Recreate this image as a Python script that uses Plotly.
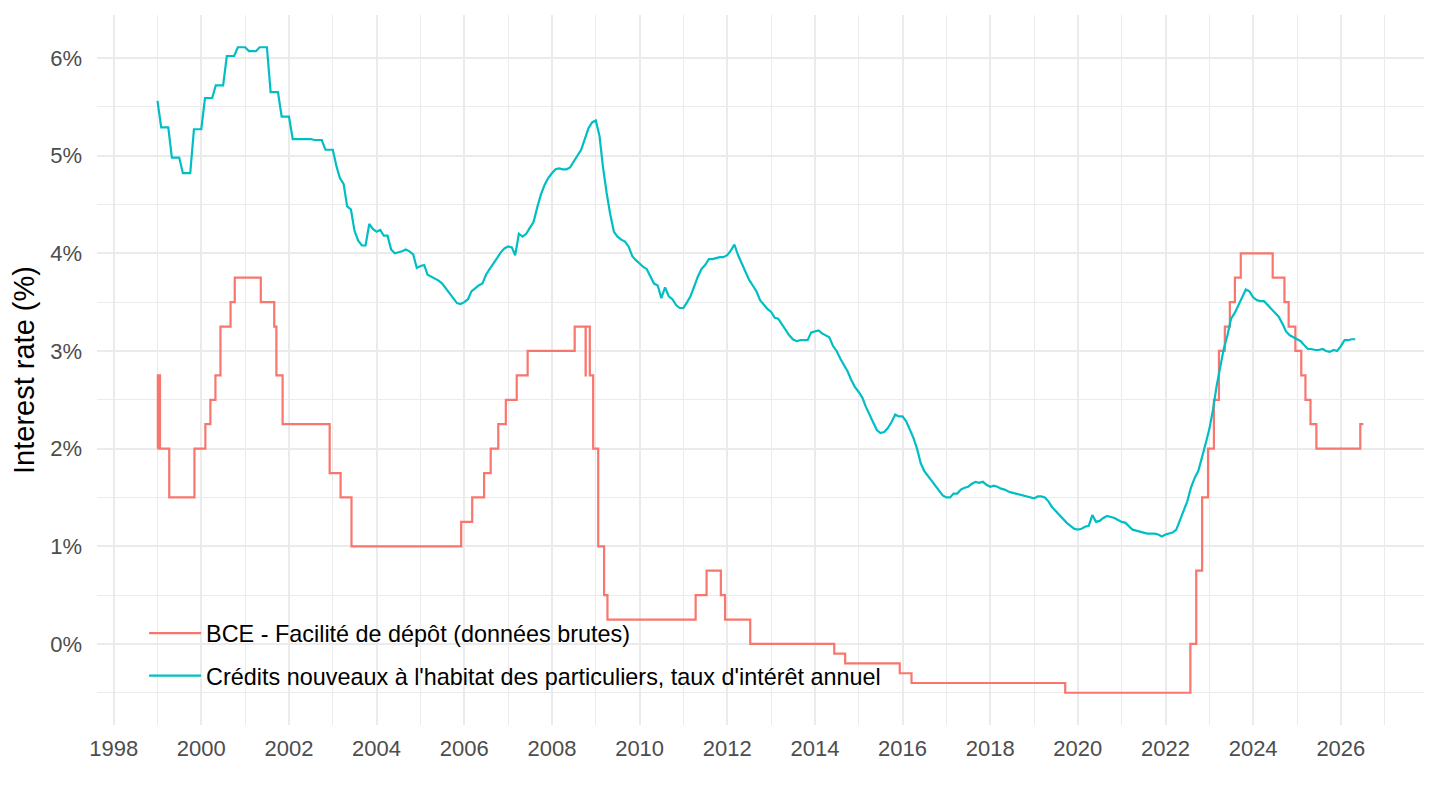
import pandas as pd
import plotly.graph_objects as go

# ECB deposit facility rate: change dates and new level (%)
bce_dates = [
    "1999-01-01", "1999-01-04", "1999-01-22", "1999-04-09", "1999-11-05",
    "2000-02-04", "2000-03-17", "2000-04-28", "2000-06-09", "2000-09-01",
    "2000-10-06", "2001-05-11", "2001-08-31", "2001-09-18", "2001-11-09",
    "2002-12-06", "2003-03-07", "2003-06-06", "2005-12-06", "2006-03-08",
    "2006-06-15", "2006-08-09", "2006-10-11", "2006-12-13", "2007-03-14",
    "2007-06-13", "2008-07-09", "2008-10-08", "2008-10-09", "2008-11-12",
    "2008-12-10", "2009-01-21", "2009-03-11", "2009-04-08", "2011-04-13",
    "2011-07-13", "2011-11-09", "2011-12-14", "2012-07-11", "2014-06-11",
    "2014-09-10", "2015-12-09", "2016-03-16", "2019-09-18", "2022-07-27",
    "2022-09-14", "2022-11-02", "2022-12-21", "2023-02-08", "2023-03-22",
    "2023-05-10", "2023-06-21", "2023-08-02", "2023-09-20", "2024-06-12",
    "2024-09-18", "2024-10-23", "2024-12-18", "2025-02-05", "2025-03-12",
    "2025-04-23", "2025-06-11", "2026-06-12", "2026-07-08",
]
bce_rates = [
    2.00, 2.75, 2.00, 1.50, 2.00,
    2.25, 2.50, 2.75, 3.25, 3.50,
    3.75, 3.50, 3.25, 2.75, 2.25,
    1.75, 1.50, 1.00, 1.25, 1.50,
    1.75, 2.00, 2.25, 2.50, 2.75,
    3.00, 3.25, 2.75, 3.25, 2.75,
    2.00, 1.00, 0.50, 0.25, 0.50,
    0.75, 0.50, 0.25, 0.00, -0.10,
    -0.20, -0.30, -0.40, -0.50, 0.00,
    0.75, 1.50, 2.00, 2.50, 3.00,
    3.25, 3.50, 3.75, 4.00, 3.75,
    3.50, 3.25, 3.00, 2.75, 2.50,
    2.25, 2.00, 2.25, 2.25,
]

# New housing loans to households, annual rate (%), monthly from Jan 1999
credit_start = "1999-01-01"
credit_rates = [
    # 1999
    5.56, 5.29, 5.29, 5.29, 4.98, 4.98, 4.98, 4.82, 4.82, 4.82, 5.27, 5.27,
    # 2000
    5.27, 5.59, 5.59, 5.59, 5.72, 5.72, 5.72, 6.02, 6.02, 6.02, 6.11, 6.11,
    # 2001
    6.11, 6.07, 6.07, 6.07, 6.11, 6.11, 6.11, 5.65, 5.65, 5.65, 5.40, 5.40,
    # 2002
    5.40, 5.17, 5.17, 5.17, 5.17, 5.17, 5.17, 5.16, 5.16, 5.16, 5.06, 5.06,
    # 2003
    5.06, 4.89, 4.77, 4.71, 4.48, 4.45, 4.23, 4.13, 4.08, 4.08, 4.30, 4.25,
    # 2004
    4.22, 4.24, 4.18, 4.18, 4.04, 4.00, 4.01, 4.02, 4.04, 4.02, 3.99, 3.85,
    # 2005
    3.87, 3.88, 3.78, 3.76, 3.74, 3.72, 3.69, 3.64, 3.58, 3.53, 3.49, 3.48,
    # 2006
    3.50, 3.53, 3.61, 3.64, 3.67, 3.69, 3.78, 3.84, 3.89, 3.95, 4.01, 4.05,
    # 2007
    4.07, 4.06, 3.98, 4.20, 4.17, 4.20, 4.26, 4.32, 4.47, 4.60, 4.70, 4.77,
    # 2008
    4.82, 4.86, 4.87, 4.86, 4.86, 4.88, 4.94, 5.00, 5.06, 5.17, 5.28, 5.34,
    # 2009
    5.36, 5.20, 4.89, 4.62, 4.40, 4.22, 4.17, 4.14, 4.12, 4.07, 3.97, 3.93,
    # 2010
    3.89, 3.86, 3.84, 3.76, 3.69, 3.67, 3.54, 3.65, 3.56, 3.53, 3.47, 3.44,
    # 2011
    3.44, 3.50, 3.56, 3.66, 3.76, 3.84, 3.88, 3.94, 3.94, 3.95, 3.96, 3.96,
    # 2012
    3.98, 4.03, 4.09, 3.98, 3.90, 3.82, 3.73, 3.67, 3.61, 3.52, 3.47, 3.43,
    # 2013
    3.40, 3.34, 3.33, 3.27, 3.22, 3.16, 3.12, 3.10, 3.11, 3.11, 3.11, 3.19,
    # 2014
    3.20, 3.21, 3.18, 3.16, 3.14, 3.05, 3.00, 2.92, 2.86, 2.79, 2.70, 2.63,
    # 2015
    2.58, 2.52, 2.43, 2.34, 2.27, 2.19, 2.16, 2.17, 2.21, 2.27, 2.35, 2.33,
    # 2016
    2.33, 2.28, 2.20, 2.11, 2.00, 1.85, 1.77, 1.72, 1.66, 1.62, 1.56, 1.52,
    # 2017
    1.50, 1.50, 1.54, 1.54, 1.58, 1.60, 1.61, 1.64, 1.66, 1.65, 1.66, 1.63,
    # 2018
    1.61, 1.62, 1.61, 1.59, 1.58, 1.56, 1.55, 1.54, 1.53, 1.52, 1.51, 1.50,
    # 2019
    1.49, 1.51, 1.51, 1.50, 1.46, 1.40, 1.36, 1.32, 1.28, 1.24, 1.21, 1.18,
    # 2020
    1.17, 1.18, 1.20, 1.21, 1.32, 1.25, 1.26, 1.29, 1.31, 1.30, 1.29, 1.27,
    # 2021
    1.25, 1.24, 1.21, 1.17, 1.16, 1.15, 1.14, 1.13, 1.13, 1.13, 1.12, 1.10,
    # 2022
    1.12, 1.13, 1.14, 1.17, 1.26, 1.36, 1.46, 1.60, 1.70, 1.77, 1.90, 2.05,
    # 2023
    2.20, 2.40, 2.63, 2.84, 3.02, 3.16, 3.33, 3.39, 3.47, 3.56, 3.63, 3.61,
    # 2024
    3.55, 3.52, 3.51, 3.51, 3.47, 3.43, 3.39, 3.35, 3.28, 3.20, 3.16, 3.14,
    # 2025
    3.12, 3.10, 3.06, 3.02, 3.02, 3.01, 3.01, 3.02, 3.00, 2.99, 3.01, 3.00,
    # 2026
    3.05, 3.11, 3.11, 3.12, 3.12,
]
credit_dates = pd.date_range(credit_start, periods=len(credit_rates), freq="MS")

series_names = [
    "BCE - Facilité de dépôt (données brutes)",
    "Crédits nouveaux à l'habitat des particuliers, taux d'intérêt annuel",
]
series_colors = ["#F8766D", "#00BFC4"]

font_family = "Liberation Sans, Arial, sans-serif"

fig = go.Figure()
fig.add_trace(go.Scatter(
    x=pd.to_datetime(bce_dates), y=bce_rates, mode="lines",
    line=dict(color=series_colors[0], width=2.2, shape="hv"),
    name=series_names[0], legendgroup="a",
))
fig.add_trace(go.Scatter(
    x=credit_dates, y=credit_rates, mode="lines",
    line=dict(color=series_colors[1], width=2.2),
    name=series_names[1], legendgroup="b",
))

grid = "#EBEBEB"
# the page body adds an 8px offset, margins are set to compensate
fig.update_layout(
    width=1440, height=810,
    template="simple_white",
    paper_bgcolor="white", plot_bgcolor="white",
    margin=dict(l=89, r=24, t=7, b=93, autoexpand=False),
    font=dict(family=font_family, size=22, color="#4D4D4D"),
    showlegend=True,
    legend=dict(
        x=0.0355, y=0.16, xanchor="left", yanchor="top",
        bgcolor="rgba(0,0,0,0)", traceorder="grouped", tracegroupgap=9,
        itemwidth=52,
        font=dict(size=23.4, color="black"),
    ),
    xaxis=dict(
        type="date",
        range=["1997-08-15", "2027-11-25"],
        tick0="1998-01-01", dtick="M24", tickformat="%Y",
        showgrid=True, gridcolor=grid, gridwidth=1.5,
        minor=dict(dtick="M12", showgrid=True, gridcolor=grid, gridwidth=0.8),
        showline=False, zeroline=False, ticks="", ticklabelstandoff=8,
        tickfont=dict(size=22, color="#4D4D4D"),
        automargin=False,
    ),
    yaxis=dict(
        range=[-0.83, 6.44],
        tick0=0, dtick=1, ticksuffix="%",
        showgrid=True, gridcolor=grid, gridwidth=1.5,
        minor=dict(dtick=0.5, showgrid=True, gridcolor=grid, gridwidth=0.8),
        showline=False, zeroline=False, ticks="", ticklabelstandoff=14,
        tickfont=dict(size=22, color="#4D4D4D"),
        title=dict(text="Interest rate (%)", font=dict(size=29, color="black"), standoff=11),
        automargin=False,
    ),
)

fig.write_html("out.html")
